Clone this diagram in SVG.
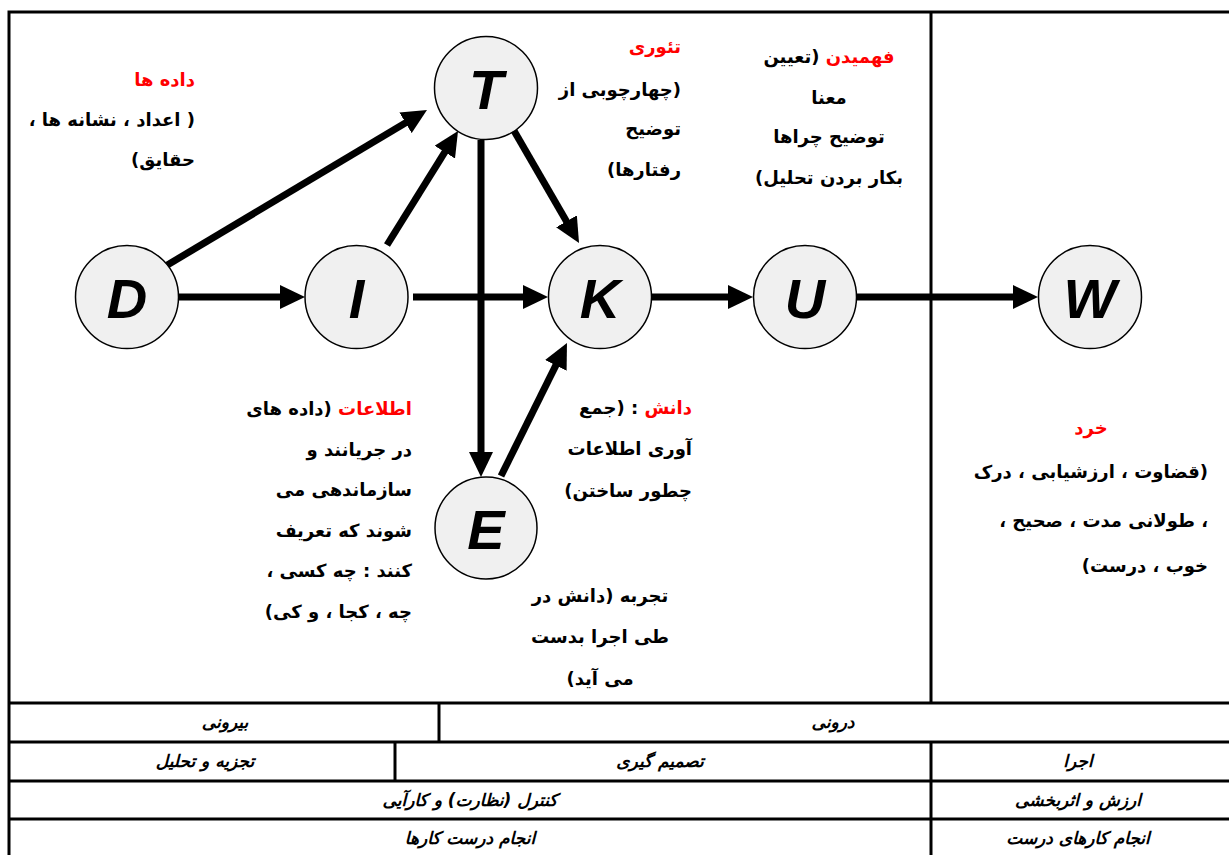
<svg xmlns="http://www.w3.org/2000/svg" width="1229" height="855" viewBox="0 0 1229 855">
<style>
.frame{fill:none;stroke:#000;stroke-width:3}
.node circle{fill:#f0f0f0;stroke:#000;stroke-width:1.5}
.node text{font-family:"Liberation Sans",Arial,sans-serif;font-weight:bold;font-style:italic;font-size:56px;text-anchor:middle;fill:#000}
.conn line{stroke:#000;stroke-width:7;fill:none}
.fa{font-family:"DejaVu Sans",sans-serif;font-weight:bold;font-size:18px;direction:rtl;fill:#000}
.r{text-anchor:start}
.m{text-anchor:middle}
.red{fill:#ff0000}
.tb{font-family:"DejaVu Sans",sans-serif;font-weight:bold;font-style:italic;font-size:17px;direction:rtl;text-anchor:middle;fill:#000}
</style>
<defs>
<marker id="ah" markerUnits="userSpaceOnUse" markerWidth="25" markerHeight="24" refX="10" refY="12" orient="auto">
<path d="M0,0 L25,12 L0,24 Z" fill="#000"/>
</marker>
</defs>
<rect width="1229" height="855" fill="#fff"/>
<g id="frame" class="frame">
<path d="M9,855 V12 H1229"/>
<line x1="931" y1="12" x2="931" y2="703"/>
<line x1="9" y1="703" x2="1229" y2="703"/>
<line x1="9" y1="742" x2="1229" y2="742"/>
<line x1="9" y1="781" x2="1229" y2="781"/>
<line x1="9" y1="819" x2="1229" y2="819"/>
<line x1="439" y1="703" x2="439" y2="742"/>
<line x1="395" y1="742" x2="395" y2="781"/>
<line x1="931" y1="742" x2="931" y2="855"/>
</g>
<g id="connectors" class="conn">
<line x1="178" y1="297" x2="290" y2="297" marker-end="url(#ah)"/>
<line x1="164" y1="267" x2="414.1" y2="117.7" marker-end="url(#ah)"/>
<line x1="387" y1="245" x2="450.1" y2="143.7" marker-end="url(#ah)"/>
<line x1="513" y1="129" x2="571.5" y2="230" marker-end="url(#ah)"/>
<line x1="481" y1="140" x2="481" y2="462" marker-end="url(#ah)"/>
<line x1="501" y1="476" x2="560.3" y2="356.4" marker-end="url(#ah)"/>
<line x1="413" y1="297" x2="533" y2="297" marker-end="url(#ah)"/>
<line x1="652" y1="297" x2="738" y2="297" marker-end="url(#ah)"/>
<line x1="856" y1="297" x2="1023" y2="297" marker-end="url(#ah)"/>
</g>
<g id="node-D" class="node"><circle cx="127" cy="297" r="51.5"/><text x="127" y="318">D</text></g>
<g id="node-I" class="node"><circle cx="356.5" cy="297" r="51.5"/><text x="356.5" y="318">I</text></g>
<g id="node-T" class="node"><circle cx="486" cy="88" r="51.5"/><text x="486" y="109">T</text></g>
<g id="node-K" class="node"><circle cx="600" cy="297" r="51.5"/><text x="600" y="318">K</text></g>
<g id="node-E" class="node"><circle cx="486" cy="528" r="51"/><text x="486" y="549">E</text></g>
<g id="node-U" class="node"><circle cx="805" cy="297" r="51.5"/><text x="805" y="318">U</text></g>
<g id="node-W" class="node"><circle cx="1090" cy="297" r="51.5"/><text x="1090" y="318">W</text></g>
<g id="label-D">
<text x="195" y="86" class="fa r red">داده ها</text>
<text x="195" y="126" class="fa r">( اعداد ، نشانه ها ،</text>
<text x="195" y="166" class="fa r">حقایق)</text>
</g>
<g id="label-T">
<text x="681" y="53" class="fa r red">تئوری</text>
<text x="681" y="96" class="fa r">(چهارچوبی از</text>
<text x="681" y="135" class="fa r">توضیح</text>
<text x="681" y="176" class="fa r">رفتارها)</text>
</g>
<g id="label-U">
<text x="829" y="63" class="fa m"><tspan class="red">فهمیدن</tspan> (تعیین</text>
<text x="829" y="104" class="fa m">معنا</text>
<text x="829" y="143" class="fa m">توضیح چراها</text>
<text x="829" y="184" class="fa m">بکار بردن تحلیل)</text>
</g>
<g id="label-I">
<text x="412" y="415" class="fa r"><tspan class="red">اطلاعات</tspan> (داده های</text>
<text x="412" y="456" class="fa r">در جریانند و</text>
<text x="412" y="496" class="fa r">سازماندهی  می</text>
<text x="412" y="537" class="fa r">شوند که تعریف</text>
<text x="412" y="577" class="fa r">کنند : چه کسی ،</text>
<text x="412" y="618" class="fa r">چه ، کجا ، و کی)</text>
</g>
<g id="label-K">
<text x="692" y="414" class="fa r"><tspan class="red">دانش</tspan> : (جمع</text>
<text x="692" y="455" class="fa r">آوری اطلاعات</text>
<text x="692" y="497" class="fa r">چطور ساختن)</text>
</g>
<g id="label-E">
<text x="600" y="602" class="fa m">تجربه (دانش در</text>
<text x="600" y="643" class="fa m">طی اجرا بدست</text>
<text x="600" y="685" class="fa m">می آید)</text>
</g>
<g id="label-W">
<text x="1091" y="434" class="fa m red">خرد</text>
<text x="1208" y="478" class="fa r">(قضاوت ، ارزشیابی ، درک</text>
<text x="1208" y="527" class="fa r">، طولانی مدت ، صحیح ،</text>
<text x="1208" y="572" class="fa r">خوب ، درست)</text>
</g>
<g id="table">
<text x="225" y="728" class="tb">بیرونی</text>
<text x="833" y="728" class="tb">درونی</text>
<text x="205" y="767" class="tb">تجزیه و تحلیل</text>
<text x="660" y="767" class="tb">تصمیم گیری</text>
<text x="1078" y="767" class="tb">اجرا</text>
<text x="470" y="806" class="tb">کنترل (نظارت) و کارآیی</text>
<text x="1078" y="806" class="tb">ارزش و اثربخشی</text>
<text x="470" y="844" class="tb">انجام درست کارها</text>
<text x="1078" y="844" class="tb">انجام کارهای درست</text>
</g>
</svg>
